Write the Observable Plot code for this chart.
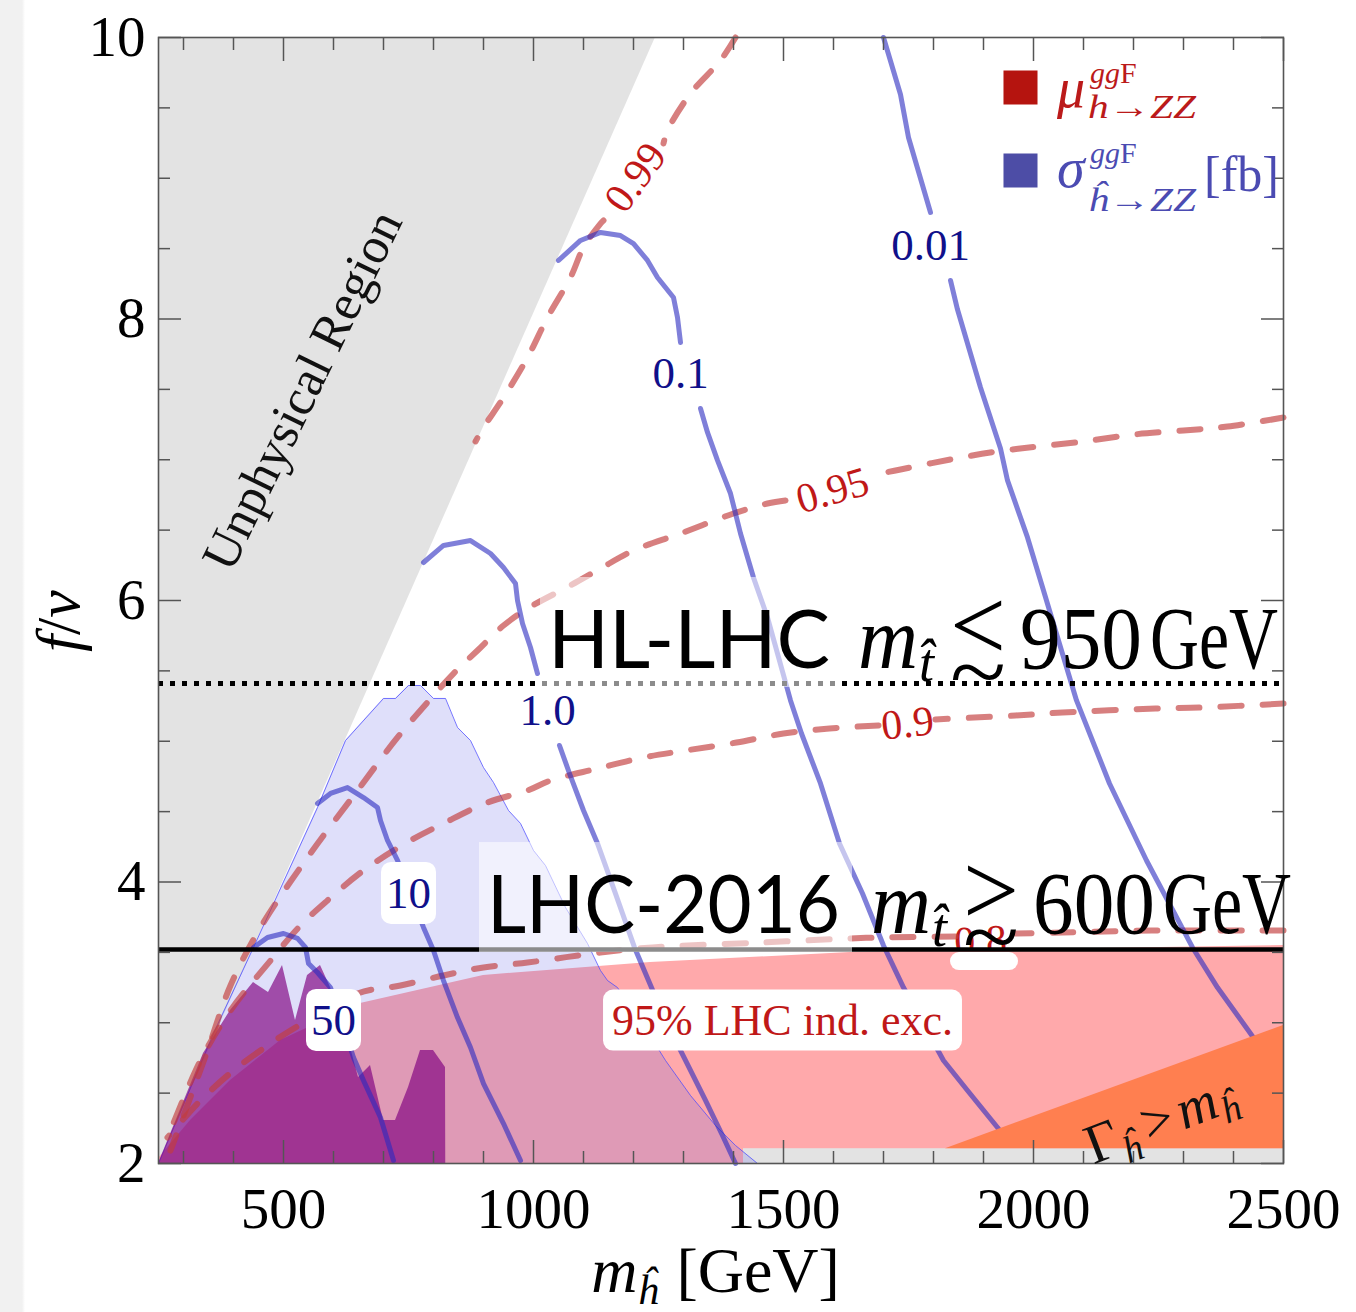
<!DOCTYPE html>
<html>
<head>
<meta charset="utf-8">
<script src="https://cdn.jsdelivr.net/npm/d3@7"></script>
<script src="https://cdn.jsdelivr.net/npm/@observablehq/plot@0.6"></script>
<style>
html,body{margin:0;padding:0;background:#fff;}
#chart{position:relative;width:1356px;height:1312px;background:linear-gradient(to right,#f1f1f1 0,#f1f1f1 22px,#fff 25px);}
#chart svg{display:block;}
</style>
</head>
<body>
<div id="chart"></div>
<script>
// ---------- axes ----------
const xDomain = [250, 2500];
const yDomain = [2, 10];
const xMajor = [500, 1000, 1500, 2000, 2500];
const xMinor = [300,400,600,700,800,900,1100,1200,1300,1400,1600,1700,1800,1900,2100,2200,2300,2400];
const yMajor = [2, 4, 6, 8, 10];
const yMinor = [2.5,3,3.5,4.5,5,5.5,6.5,7,7.5,8.5,9,9.5];

// ---------- regions [m_h, f/v] ----------
const unphysEdge = [[250,2.0],[1244,10]];
const pinkTop = [[250,2.036],[314,2.306],[394,2.59],[494,2.874],[654,3.137],[900,3.336],[1234,3.428],[1634,3.499],[2500,3.549]];
const grayStrip = [{m1:1420, m2:2500, f1:2, f2:2.105}];
const blueRegion = [[250,2.0],[360,2.924],[440,3.535],[568,4.529],[624,5.005],[700,5.304],[724,5.304],[750,5.396],[774,5.396],[800,5.304],[824,5.304],[848,5.098],[874,5.005],[900,4.813],[920,4.707],[950,4.508],[974,4.416],[1000,4.224],[1024,4.117],[1064,3.819],[1108,3.563],[1134,3.371],[1148,3.300],[1168,3.250],[1214,3.016],[1264,2.732],[1314,2.483],[1364,2.270],[1404,2.128],[1448,2.0]];
const purpleRegion = [[250,2.0],[340,2.782],[394,3.087],[440,3.286],[470,3.215],[498,3.407],[524,3.016],[548,3.336],[574,3.407],[594,3.250],[634,2.824],[650,2.611],[674,2.696],[700,2.306],[724,2.306],[750,2.540],[774,2.803],[800,2.803],[824,2.682],[824.5,2.0]];
const orangeRegion = [[1824,2.105],[2500,2.98]];
const orangeBase = 2.105;

// ---------- mu contours (dashed) ----------
const mu099 = [
  [[1404,10],[1374,9.837],[1314,9.602],[1268,9.339],[1260,9.247]],
  [[1140,8.70],[1134,8.678],[1100,8.508],[1074,8.295],[1028,8.011],[988,7.726],[940,7.442],[900,7.229],[884,7.13]]
];
const mu095 = [
  [[2500,7.30],[2388,7.236],[2300,7.208],[2200,7.179],[2100,7.130],[2008,7.094],[1928,7.059],[1834,7.002],[1734,6.931],[1694,6.902]],
  [[1504,6.711],[1468,6.689],[1400,6.618],[1294,6.476],[1200,6.355],[1134,6.227],[1074,6.107],[988,5.943],[940,5.822],[888,5.645],[840,5.481],[800,5.325],[728,5.027],[648,4.650],[548,4.174],[454,3.677],[394,3.265],[348,2.803],[304,2.377],[274,2.092]]
];
const mu090 = [
  [[2500,5.268],[2338,5.240],[2244,5.233],[2058,5.204],[1964,5.183],[1844,5.162],[1804,5.155]],
  [[1690,5.112],[1592,5.091],[1500,5.055],[1406,4.991],[1304,4.934],[1220,4.885],[1128,4.806],[1034,4.721],[988,4.650],[908,4.565],[820,4.416],[754,4.295],[660,4.082],[588,3.869],[534,3.691],[474,3.442],[394,3.087],[334,2.732],[274,2.234]]
];
const mu080 = [
  [[2500,3.655],[2244,3.655],[2058,3.641],[1964,3.634]],
  [[1844,3.613],[1694,3.606],[1634,3.599],[1454,3.570],[1238,3.535],[1134,3.499],[988,3.428],[900,3.393],[820,3.336],[734,3.265],[648,3.208],[514,2.945],[454,2.803],[400,2.661],[334,2.448],[268,2.185]]
];

// ---------- sigma contours (solid) ----------
const sig001 = [
  [[1700,10],[1734,9.595],[1750,9.289],[1794,8.757]],
  [[1834,8.274],[1848,8.067],[1894,7.513],[1934,7.080],[1948,6.853],[1988,6.448],[2020,6.071],[2086,5.290],[2152,4.700],[2226,4.153],[2318,3.535],[2368,3.250],[2434,2.924],[2474,2.718]]
];
const sig01 = [
  [[1050,8.416],[1094,8.558],[1134,8.615],[1174,8.593],[1200,8.536],[1228,8.416],[1248,8.295],[1280,8.153],[1288,8.011],[1294,7.833]],
  [[1334,7.364],[1348,7.194],[1368,6.995],[1394,6.760],[1414,6.476],[1440,6.163],[1468,5.879],[1514,5.290],[1536,5.055],[1574,4.700],[1612,4.274],[1658,3.918],[1700,3.549],[1740,3.250],[1820,2.732],[1868,2.519],[1928,2.256],[1954,2.128]]
];
const sig1 = [
  [[780,6.270],[820,6.391],[874,6.426],[914,6.334],[940,6.234],[964,6.121],[968,6.000],[978,5.837],[994,5.666],[1008,5.481]],
  [[1052,4.970],[1072,4.771],[1100,4.508],[1128,4.274],[1164,3.918],[1202,3.535],[1230,3.300],[1264,3.016],[1304,2.732],[1344,2.448],[1378,2.199],[1404,2.0]]
];
const sig10 = [[[568,4.558],[594,4.629],[628,4.671],[660,4.600],[688,4.529],[694,4.437],[708,4.295],[728,4.153],[780,3.677],[800,3.513],[820,3.300],[848,3.037],[874,2.824],[900,2.568],[940,2.284],[974,2.021]]];
const sig50 = [[[440,3.535],[468,3.606],[500,3.634],[528,3.599],[544,3.535],[550,3.421],[568,3.357],[594,3.250],[640,2.753],[660,2.590],[694,2.327],[720,2.021]]];

// ---------- bounds ----------
const hlLhcLine = [5.41];
const lhc2016Line = [3.52];

// ---------- labels ----------
const navyLabels = [{t:"0.01", m:1794, f:8.522},{t:"0.1", m:1294, f:7.613},{t:"1.0", m:1028, f:5.218}];
const navyBoxed = [{t:"10", m:750, f:3.918},{t:"50", m:600, f:3.016}];
const redLabels = [{t:"0.99", m:1204, f:9.005, r:-54},{t:"0.95", m:1598, f:6.781, r:-16},{t:"0.9", m:1748, f:5.126, r:-6}];
const redHidden = [{t:"0.8", m:1894, f:3.58, r:-3}];
const redBoxed = [{t:"95% LHC ind. exc.", m:1498, f:3.016}];
const strayBox = [{m1:1834, m2:1970, f1:3.371, f2:3.499}];
const unphysLabel = [{t:"Unphysical Region", m:538, f:7.492, r:-64}];
const legendKeys = [{m:1974, f:9.645, c:"#b5140f"},{m:1974, f:9.055, c:"#4d4da6"}];
const boundLabels = [
  {lab: "HL-LHC", m: 1030, f: 5.517, rel: "<", val: "950", labLen: 282, gap: 28},
  {lab: "LHC-2016", m: 908, f: 3.634, rel: ">", val: "600", labLen: 353, gap: 31}
];

const XY = {x: d => d[0], y: d => d[1]};
const BLUE = "#2a2ac0", RED = "#c23c3c";
const blueLines = arrs => arrs.map(a => Plot.line(a, {...XY, stroke: BLUE, strokeOpacity: 0.6, strokeWidth: 5, strokeLinejoin: "round"}));
const redLines = arrs => arrs.map(a => Plot.line(a, {...XY, curve: "catmull-rom", stroke: RED, strokeOpacity: 0.66, strokeWidth: 6, strokeDasharray: "21,21", strokeLinecap: "round"}));

const chart = Plot.plot({
  width: 1356, height: 1312,
  marginLeft: 158, marginRight: 73, marginTop: 37, marginBottom: 149,
  x: {domain: xDomain, label: null},
  y: {domain: yDomain, label: null},
  style: {fontFamily: "'Liberation Serif', serif", fontSize: "45px", overflow: "visible", background: "transparent"},
  marks: [
    Plot.area(unphysEdge, {x1: d => d[0], y1: d => d[1], y2: 10, fill: "#e3e3e3"}),
    Plot.text(redHidden, {x: "m", y: "f", text: "t", rotate: d => d.r, fill: "#c01818", fontSize: 42, lineAnchor: "middle"}),
    Plot.area(pinkTop, {x1: d => d[0], y1: 2, y2: d => d[1], fill: "#ffa9ab"}),
    Plot.rect(grayStrip, {x1: "m1", x2: "m2", y1: "f1", y2: "f2", fill: "#e3e3e3"}),
    Plot.area(blueRegion, {x1: d => d[0], y1: 2, y2: d => d[1], fill: "#5f5fe8", fillOpacity: 0.2}),
    Plot.line(blueRegion, {...XY, stroke: "#4a4aff", strokeOpacity: 0.75, strokeWidth: 1}),
    Plot.area(purpleRegion, {x1: d => d[0], y1: 2, y2: d => d[1], fill: "#800080", fillOpacity: 0.66}),
    ...redLines(mu099), ...redLines(mu095), ...redLines(mu090), ...redLines(mu080),
    ...blueLines(sig001), ...blueLines(sig01), ...blueLines(sig1), ...blueLines(sig10), ...blueLines(sig50),
    Plot.area(orangeRegion, {x1: d => d[0], y1: orangeBase, y2: d => d[1], fill: "#ff7f50"}),
    Plot.ruleY(hlLhcLine, {stroke: "#000", strokeWidth: 5, strokeDasharray: "5,7"}),
    Plot.ruleY(lhc2016Line, {stroke: "#000", strokeWidth: 4.5}),
    Plot.rect(strayBox, {x1: "m1", x2: "m2", y1: "f1", y2: "f2", fill: "#fff", rx: 9}),
    Plot.text(navyLabels, {x: "m", y: "f", text: "t", fill: "#10108a", fontSize: 45, lineAnchor: "middle"}),
    Plot.text(navyBoxed, {x: "m", y: "f", text: "t", fill: "#10108a", fontSize: 45, lineAnchor: "middle"}),
    Plot.text(redLabels, {x: "m", y: "f", text: "t", rotate: d => d.r, fill: "#c01818", fontSize: 42, lineAnchor: "middle"}),
    Plot.text(redBoxed, {x: "m", y: "f", text: "t", fill: "#c01818", fontSize: 44, lineAnchor: "middle"}),
    Plot.text(unphysLabel, {x: "m", y: "f", text: "t", rotate: d => d.r, fill: "#111", fontSize: 51, lineAnchor: "middle"}),
    Plot.dot(legendKeys, {x: "m", y: "f", symbol: "square", r: 19.2, fill: d => d.c, stroke: null}),
    Plot.frame({stroke: "#555", strokeWidth: 1.6}),
    Plot.axisX({ticks: xMinor, tickSize: -12, tickFormat: () => "", label: null, stroke: "#555", strokeWidth: 1.5}),
    Plot.axisX({ticks: xMajor, tickSize: -23, tickFormat: () => "", label: null, stroke: "#555", strokeWidth: 1.5}),
    Plot.axisX({anchor: "top", ticks: xMinor, tickSize: -12, tickFormat: () => "", label: null, stroke: "#555", strokeWidth: 1.5}),
    Plot.axisX({anchor: "top", ticks: xMajor, tickSize: -23, tickFormat: () => "", label: null, stroke: "#555", strokeWidth: 1.5}),
    Plot.axisY({ticks: yMinor, tickSize: -12, tickFormat: () => "", label: null, stroke: "#555", strokeWidth: 1.5}),
    Plot.axisY({ticks: yMajor, tickSize: -23, tickFormat: () => "", label: null, stroke: "#555", strokeWidth: 1.5}),
    Plot.axisY({anchor: "right", ticks: yMinor, tickSize: -12, tickFormat: () => "", label: null, stroke: "#555", strokeWidth: 1.5}),
    Plot.axisY({anchor: "right", ticks: yMajor, tickSize: -23, tickFormat: () => "", label: null, stroke: "#555", strokeWidth: 1.5}),
    Plot.axisX({ticks: xMajor, tickSize: 0, tickPadding: 24, fontSize: 57, label: null, fill: "#000", tickFormat: d => String(d)}),
    Plot.axisY({ticks: yMajor, tickSize: 0, tickPadding: 13, fontSize: 57, label: null, fill: "#000", tickFormat: d => String(d)})
  ]
});
document.getElementById("chart").appendChild(chart);

// ---------- post-processing: label boxes & rich text ----------
const NS = "http://www.w3.org/2000/svg";
const boxedSet = new Set([...navyBoxed.map(d => d.t), ...redBoxed.map(d => d.t)]);
d3.select(chart).selectAll("g[aria-label='text'] text").each(function() {
  if (!boxedSet.has(this.textContent)) return;
  const bb = this.getBBox();
  const padX = this.textContent.length > 3 ? 9 : 5, padY = 6;
  const r = document.createElementNS(NS, "rect");
  r.setAttribute("x", bb.x - padX); r.setAttribute("y", bb.y - padY);
  r.setAttribute("width", bb.width + 2 * padX); r.setAttribute("height", bb.height + 2 * padY);
  r.setAttribute("rx", 10); r.setAttribute("fill", "#fff"); r.setAttribute("stroke", "none");
  const tr = this.getAttribute("transform"); if (tr) r.setAttribute("transform", tr);
  this.parentNode.insertBefore(r, this);
});

const X = v => chart.scale("x").apply(v), Y = v => chart.scale("y").apply(v);
const svg = d3.select(chart);
const g = svg.append("g").attr("text-anchor", "start");
const SERIF = "'Liberation Serif', serif";
const SANS = "Lato, 'Open Sans', sans-serif";

function txt(x, y, s, o = {}) {
  const t = g.append("text").attr("x", x).attr("y", y).text(s)
    .attr("text-anchor", o.anchor || "start")
    .attr("font-family", o.ff || SERIF).attr("font-size", o.size || 45).attr("fill", o.fill || "#000");
  if (o.it) t.attr("font-style", "italic");
  if (o.len) t.attr("textLength", o.len).attr("lengthAdjust", "spacingAndGlyphs");
  if (o.tr) t.attr("transform", o.tr);
  return t;
}

// bound annotations
boundLabels.forEach(b => {
  const x0 = X(b.m), y0 = Y(b.f);
  const t = txt(x0, y0, b.lab, {ff: SANS, size: 82, len: b.labLen});
  const bb = t.node().getBBox();
  g.insert("rect", "text").attr("x", bb.x - 8).attr("y", bb.y - 10).attr("width", bb.width + 20).attr("height", bb.height + 12)
    .attr("fill", "#fff").attr("fill-opacity", 0.55);
  const mx = x0 + b.labLen + b.gap;
  txt(mx, y0, "m", {it: true, size: 88, len: 60});
  txt(mx + 61, y0 + 13, "t\u0302", {it: true, size: 54});
  txt(mx + 92, y0 - 8, b.rel, {size: 104, len: 56});
  txt(mx + 92, y0 + 34, "~", {size: 90, len: 56});
  txt(mx + 162, y0, b.val, {size: 88, len: 122});
  txt(mx + 292, y0, "GeV", {size: 88, len: 128});
});

// legend text
{
  const sx = X(legendKeys[0].m), s1 = Y(legendKeys[0].f), s2 = Y(legendKeys[1].f);
  const red = "#bb1a1a", blue = "#4b4bb2";
  txt(sx + 37, s1 + 20, "\u03bc", {it: true, size: 56, fill: red});
  const sp1 = g.append("text").attr("x", sx + 70).attr("y", s1 - 4).attr("text-anchor", "start").attr("font-family", SERIF).attr("font-size", 30).attr("fill", red);
  sp1.append("tspan").attr("font-style", "italic").text("gg"); sp1.append("tspan").text("F");
  const sb1 = g.append("text").attr("x", sx + 68).attr("y", s1 + 31).attr("text-anchor", "start").attr("font-family", SERIF).attr("font-size", 34).attr("fill", red)
    .attr("textLength", 108).attr("lengthAdjust", "spacingAndGlyphs");
  sb1.append("tspan").attr("font-style", "italic").text("h"); sb1.append("tspan").text("\u2192"); sb1.append("tspan").attr("font-style", "italic").text("ZZ");
  txt(sx + 37, s2 + 17, "\u03c3", {it: true, size: 56, fill: blue});
  const sp2 = g.append("text").attr("x", sx + 70).attr("y", s2 - 7).attr("text-anchor", "start").attr("font-family", SERIF).attr("font-size", 30).attr("fill", blue);
  sp2.append("tspan").attr("font-style", "italic").text("gg"); sp2.append("tspan").text("F");
  const sb2 = g.append("text").attr("x", sx + 68).attr("y", s2 + 41).attr("text-anchor", "start").attr("font-family", SERIF).attr("font-size", 34).attr("fill", blue)
    .attr("textLength", 108).attr("lengthAdjust", "spacingAndGlyphs");
  sb2.append("tspan").attr("font-style", "italic").text("\u0125"); sb2.append("tspan").text("\u2192"); sb2.append("tspan").attr("font-style", "italic").text("ZZ");
  txt(sx + 184, s2 + 21, "[fb]", {size: 50, fill: blue});
}

// Gamma label
{
  const gx = X(2254), gy = Y(2.32);
  const t = g.append("text").attr("transform", `translate(${gx},${gy}) rotate(-21)`).attr("text-anchor", "middle").attr("dy", "0.35em")
    .attr("font-family", SERIF).attr("font-size", 56).attr("fill", "#111");
  t.append("tspan").text("\u0393");
  t.append("tspan").attr("font-style", "italic").attr("font-size", 38).attr("dy", 12).text("\u0125");
  t.append("tspan").attr("dy", -12).attr("dx", 8).text(">");
  t.append("tspan").attr("font-style", "italic").attr("dx", 6).text("m");
  t.append("tspan").attr("font-style", "italic").attr("font-size", 38).attr("dy", 10).attr("dx", 1).text("\u0125");
}

// axis titles
{
  const xl = g.append("text").attr("x", X(1365)).attr("y", 1292).attr("text-anchor", "middle")
    .attr("font-family", SERIF).attr("font-size", 64).attr("fill", "#000");
  xl.append("tspan").attr("font-style", "italic").text("m");
  xl.append("tspan").attr("font-style", "italic").attr("font-size", 42).attr("dy", 12).text("\u0125");
  xl.append("tspan").attr("dy", -12).attr("dx", 18).text("[GeV]");
  const yl = g.append("text").attr("transform", `translate(57,${Y(5.85)}) rotate(-90)`).attr("text-anchor", "middle").attr("dy", "0.35em")
    .attr("font-family", SERIF).attr("font-size", 62).attr("fill", "#000");
  yl.append("tspan").attr("font-style", "italic").text("f");
  yl.append("tspan").text("/");
  yl.append("tspan").attr("font-style", "italic").text("v");
}
</script>
</body>
</html>
